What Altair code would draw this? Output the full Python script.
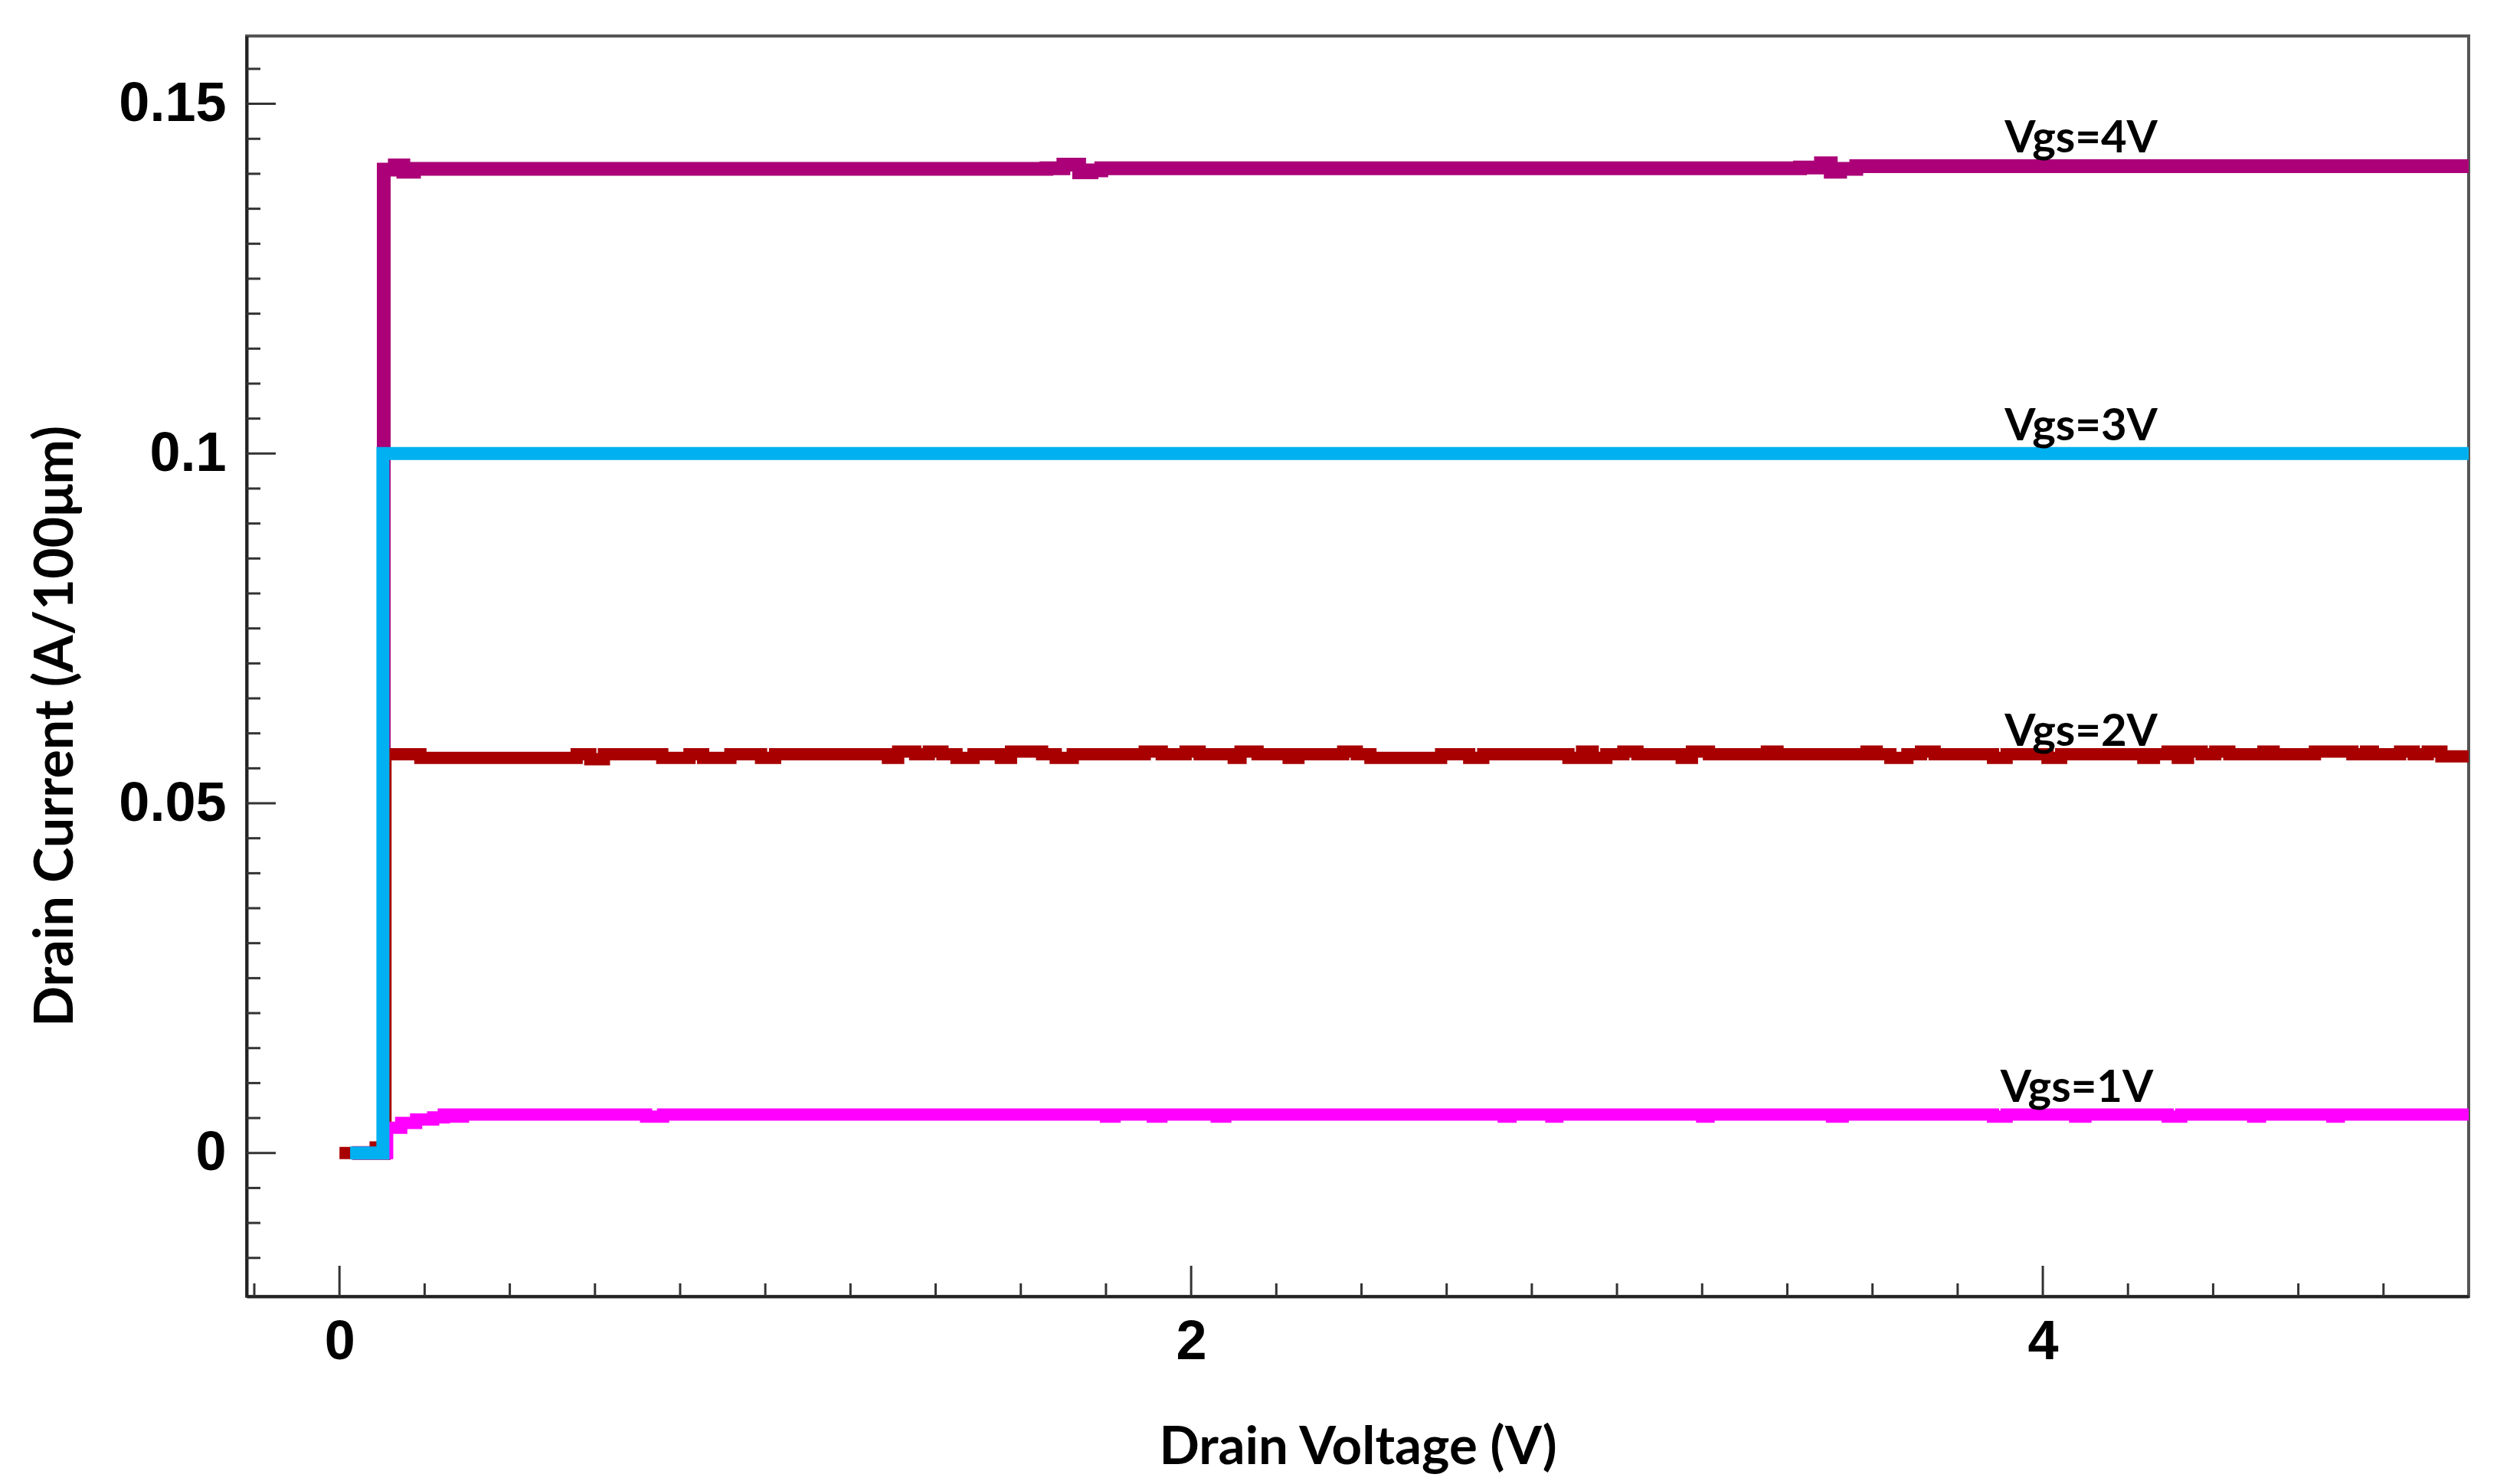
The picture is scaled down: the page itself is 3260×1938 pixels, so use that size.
import altair as alt
import pandas as pd

# ---------------- data ----------------
# Vgs = 4V
x_vgs4 = [0.03, 0.104, 0.13, 0.15, 0.175, 1.66, 1.70, 1.737, 1.766, 1.789, 3.43, 3.479, 3.502, 3.524, 3.562, 5.0]
y_vgs4 = [0.0, 0.1406, 0.1412, 0.1403, 0.1407, 0.1408, 0.1413, 0.1402, 0.1405, 0.1408, 0.1409, 0.1415, 0.1403, 0.1407, 0.1411, 0.1411]

# Vgs = 3V
x_vgs3 = [0.025, 0.102, 5.0]
y_vgs3 = [0.0, 0.1, 0.1]

# Vgs = 2V
x_vgs2 = [0.0, 0.085, 0.095, 0.108, 0.19, 0.557, 0.589, 0.621, 0.758, 0.822, 0.854, 0.918, 0.990, 1.023,
          1.288, 1.312, 1.352, 1.384, 1.416, 1.449, 1.489, 1.553, 1.577, 1.650, 1.682, 1.722, 1.891, 1.931,
          1.987, 2.020, 2.100, 2.116, 2.156, 2.229, 2.252, 2.357, 2.389, 2.421, 2.587, 2.653, 2.686, 2.886,
          2.918, 2.943, 2.975, 3.015, 3.048, 3.152, 3.176, 3.216, 3.352, 3.377, 3.586, 3.610, 3.642, 3.682,
          3.714, 3.746, 3.883, 3.915, 4.011, 4.043, 4.236, 4.261, 4.293, 4.317, 4.341, 4.373, 4.405, 4.438,
          4.518, 4.542, 4.639, 4.727, 4.759, 4.775, 4.839, 4.871, 4.904, 4.936, 5.0]
y_vgs2 = [0.0, 0.0008, 0.0, 0.0570, 0.0565, 0.0570, 0.0563, 0.0570, 0.0565, 0.0570, 0.0565, 0.0570, 0.0565, 0.0570,
          0.0565, 0.0574, 0.0570, 0.0574, 0.0570, 0.0565, 0.0570, 0.0565, 0.0574, 0.0570, 0.0565, 0.0570, 0.0574, 0.0570,
          0.0574, 0.0570, 0.0565, 0.0574, 0.0570, 0.0565, 0.0570, 0.0574, 0.0570, 0.0565, 0.0570, 0.0565, 0.0570, 0.0565,
          0.0574, 0.0565, 0.0570, 0.0574, 0.0570, 0.0565, 0.0574, 0.0570, 0.0574, 0.0570, 0.0574, 0.0570, 0.0565, 0.0570,
          0.0574, 0.0570, 0.0565, 0.0570, 0.0565, 0.0570, 0.0565, 0.0570, 0.0574, 0.0565, 0.0574, 0.0570, 0.0574, 0.0570,
          0.0574, 0.0570, 0.0574, 0.0570, 0.0574, 0.0570, 0.0574, 0.0570, 0.0574, 0.0567, 0.0567]

# Vgs = 1V
x_vgs1 = [0.03, 0.112, 0.145, 0.18, 0.22, 0.245, 0.27, 0.29, 0.72, 0.76, 1.80, 1.82, 1.91, 1.93, 2.06, 2.08,
          2.734, 2.75, 2.846, 2.86, 3.20, 3.215, 3.505, 3.530, 3.883, 3.915, 4.076, 4.100, 4.293, 4.325,
          4.494, 4.51, 4.68, 4.695, 5.0]
y_vgs1 = [0.0, 0.0036, 0.0043, 0.0048, 0.0051, 0.0055, 0.0052, 0.0055, 0.0052, 0.0055, 0.0052, 0.0055, 0.0052, 0.0055,
          0.0052, 0.0055, 0.0052, 0.0055, 0.0052, 0.0055, 0.0052, 0.0055, 0.0052, 0.0055, 0.0052, 0.0055,
          0.0052, 0.0055, 0.0052, 0.0055, 0.0052, 0.0055, 0.0052, 0.0055, 0.0055]

# curve labels
label_text = ["Vgs=4V", "Vgs=3V", "Vgs=2V", "Vgs=1V"]
label_x = [4.09, 4.09, 4.09, 4.08]
label_y = [0.1431, 0.1019, 0.0582, 0.0073]

# axis ticks
y_major = [0, 0.05, 0.1, 0.15]
y_minor = [round(-0.015 + 0.005 * i, 4) for i in range(35) if round(-0.015 + 0.005 * i, 4) not in (0, 0.05, 0.1, 0.15)]
x_major = [0, 2, 4]
x_minor = [round(-0.2 + 0.2 * i, 3) for i in range(26) if round(-0.2 + 0.2 * i, 3) not in (0, 2, 4)]

X_DOMAIN = [-0.218, 5.0]
Y_DOMAIN = [-0.0205, 0.1597]
W, H = 2901, 1646

xs = alt.Scale(domain=X_DOMAIN, nice=False, zero=False)
ys = alt.Scale(domain=Y_DOMAIN, nice=False, zero=False)

xa = alt.Axis(values=x_major, format="d", title="Drain Voltage (V)", grid=False,
              ticks=False, tickSize=0, labelPadding=24, labelFont="Liberation Sans",
              labelFontSize=72, labelFontWeight="bold", labelColor="#000",
              titleFont="Lato", titleFontSize=69, titleFontWeight="bold", titleColor="#000",
              titlePadding=68, domainColor="#222", domainWidth=4)
ya = alt.Axis(values=y_major, format="~g", title="Drain Current  (A/100μm)", grid=False,
              ticks=False, tickSize=0, labelPadding=27, labelFont="Liberation Sans",
              labelFontSize=72, labelFontWeight="bold", labelColor="#000",
              titleFont="Lato", titleFontSize=70, titleFontWeight="bold", titleColor="#000",
              titlePadding=45, titleY=901, domainColor="#222", domainWidth=4)

XE = alt.X("x:Q", scale=xs, axis=xa)
YE = alt.Y("y:Q", scale=ys, axis=ya)


def series(xv, yv, color, width):
    df = pd.DataFrame({"x": xv, "y": yv})
    return alt.Chart(df).mark_line(
        interpolate="step-after", color=color, strokeWidth=width,
        strokeJoin="miter", strokeCap="butt", clip=True
    ).encode(x=XE, y=YE)


l4 = series(x_vgs4, y_vgs4, "#AB0078", 18)
l2 = series(x_vgs2, y_vgs2, "#A80000", 16)
l1 = series(x_vgs1, y_vgs1, "#FF00FF", 16)
l3 = series(x_vgs3, y_vgs3, "#00B0F0", 17)

tick_color = "#333"
ymaj = alt.Chart(pd.DataFrame({"y": y_major})).mark_rule(color=tick_color, strokeWidth=3).encode(
    y=YE, x=alt.value(0), x2=alt.value(38))
ymin = alt.Chart(pd.DataFrame({"y": y_minor})).mark_rule(color=tick_color, strokeWidth=3).encode(
    y=YE, x=alt.value(0), x2=alt.value(18))
xmaj = alt.Chart(pd.DataFrame({"x": x_major})).mark_rule(color=tick_color, strokeWidth=3).encode(
    x=XE, y=alt.value(H), y2=alt.value(H - 40))
xmin = alt.Chart(pd.DataFrame({"x": x_minor})).mark_rule(color=tick_color, strokeWidth=3).encode(
    x=XE, y=alt.value(H), y2=alt.value(H - 17))

labels = alt.Chart(pd.DataFrame({"x": label_x, "y": label_y, "t": label_text})).mark_text(
    font="Lato", fontSize=58, fontWeight="bold", color="#000", align="center", baseline="alphabetic"
).encode(x=XE, y=YE, text="t:N")

chart = alt.layer(l4, l2, l1, l3, ymaj, ymin, xmaj, xmin, labels).properties(
    width=W, height=H,
    autosize=alt.AutoSizeParams(type="none"),
    padding={"left": 314, "top": 39, "right": 20, "bottom": 242},
    background="white",
).configure_view(stroke="#555", strokeWidth=4)

chart.save("out.html", embed_options={"renderer": "svg", "actions": False})
